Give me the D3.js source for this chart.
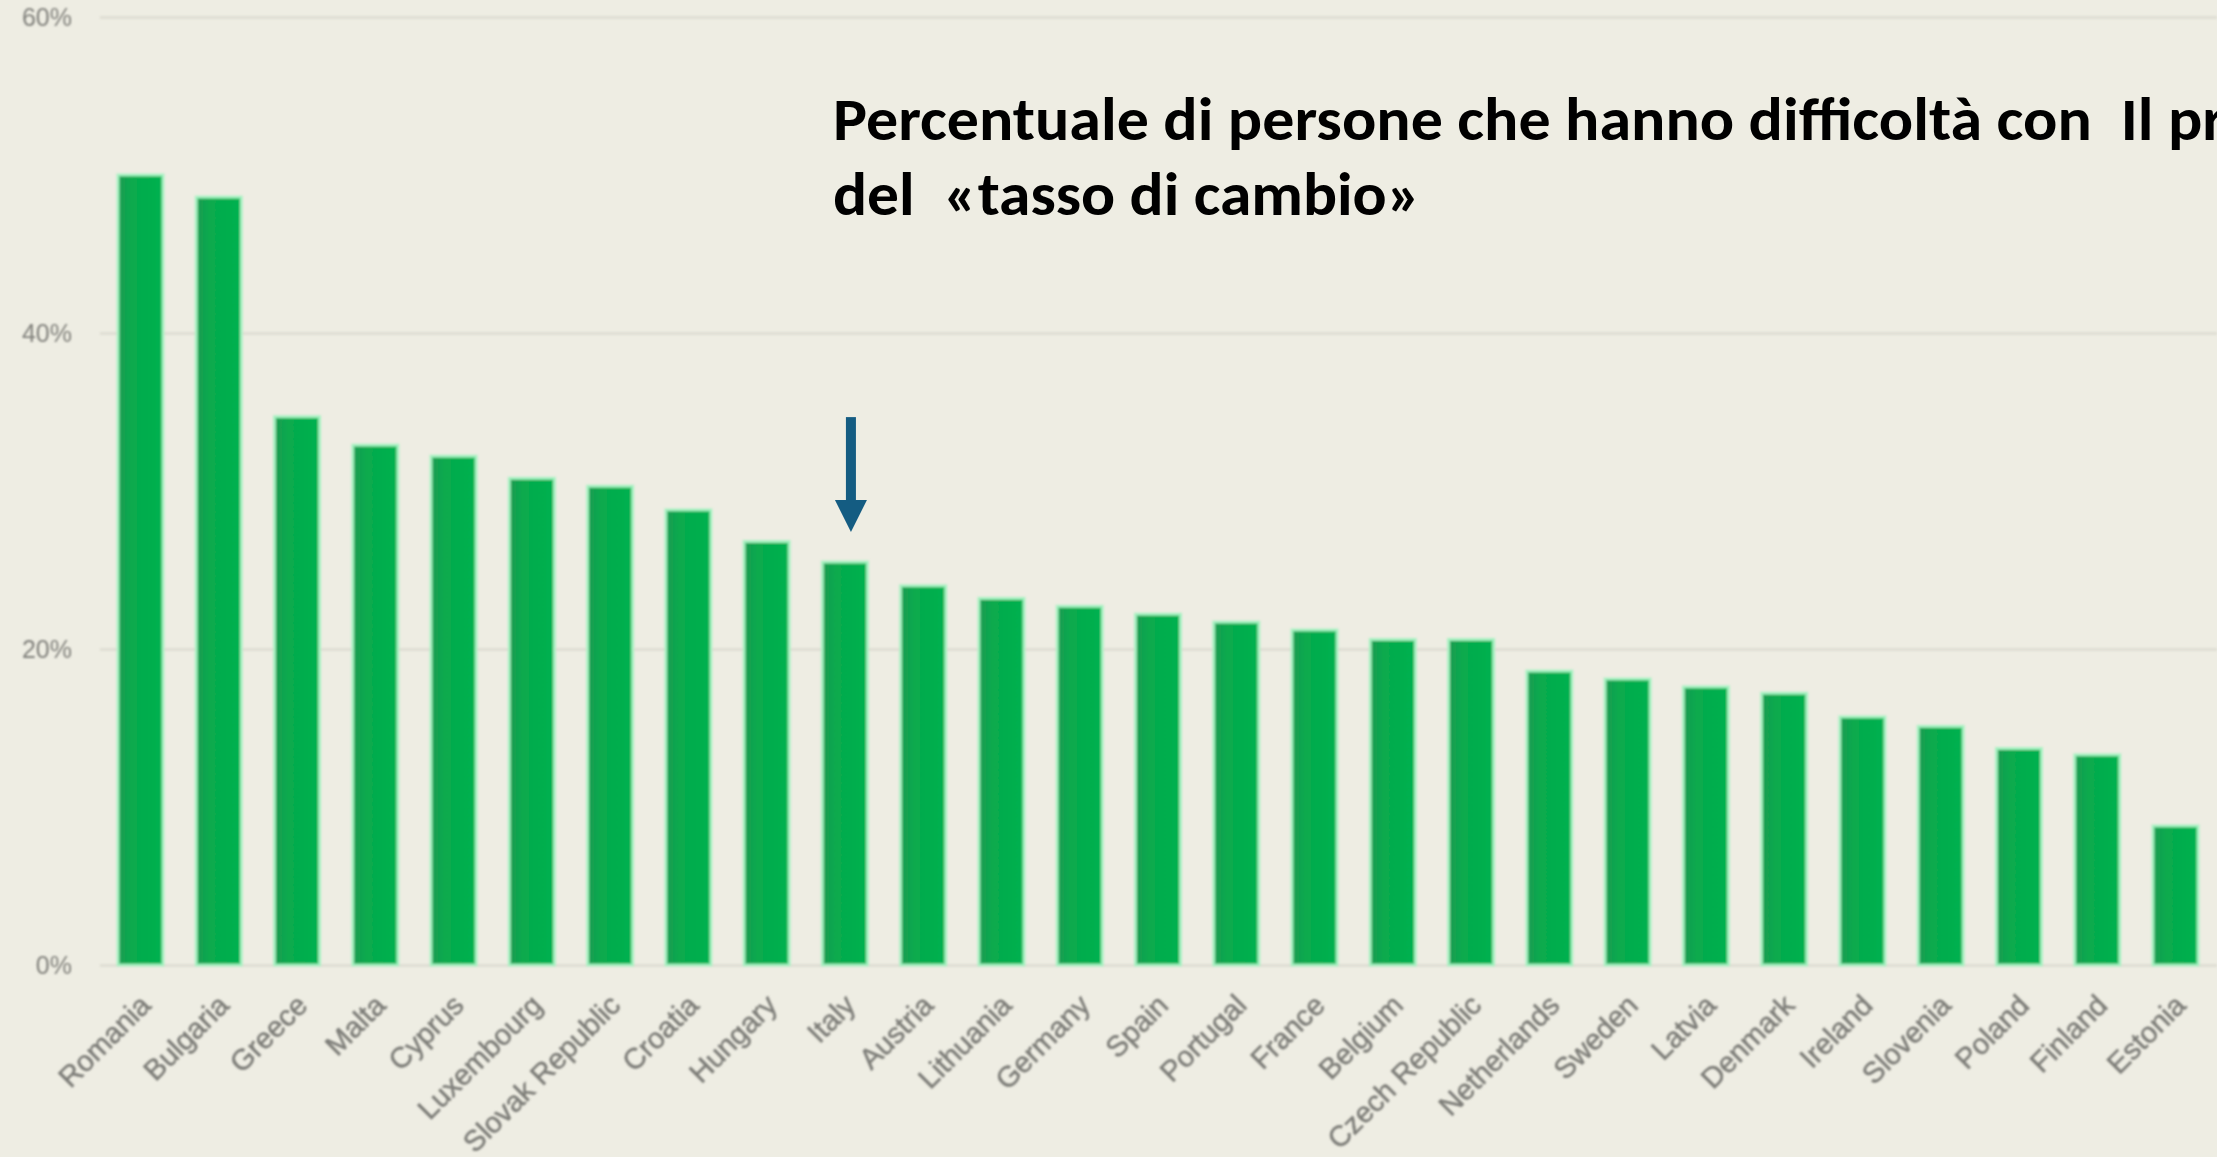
<!DOCTYPE html>
<html>
<head>
<meta charset="utf-8">
<script src="https://cdn.jsdelivr.net/npm/d3@7"></script>
<style>
  html, body { margin: 0; padding: 0; background: #eeede3; }
  svg { display: block; }
</style>
</head>
<body>
<svg id="chart" width="2217" height="1157"></svg>
<script>
// Share of people having difficulty with the "exchange rate" problem, by country
const countries = [
  "Romania", "Bulgaria", "Greece", "Malta", "Cyprus", "Luxembourg",
  "Slovak Republic", "Croatia", "Hungary", "Italy", "Austria", "Lithuania",
  "Germany", "Spain", "Portugal", "France", "Belgium", "Czech Republic",
  "Netherlands", "Sweden", "Latvia", "Denmark", "Ireland", "Slovenia",
  "Poland", "Finland", "Estonia"
];
const shares = [
  50.0, 48.6, 34.7, 32.9, 32.2, 30.8,
  30.3, 28.8, 26.8, 25.5, 24.0, 23.2,
  22.7, 22.2, 21.7, 21.2, 20.6, 20.6,
  18.6, 18.1, 17.6, 17.2, 15.7, 15.1,
  13.7, 13.3, 8.8
];
const yTicks = [0, 20, 40, 60];
const highlighted = "Italy";
const titleLines = [
  "Percentuale di persone che hanno difficoltà con  Il pr",
  "del  «tasso di cambio»"
];

const W = 2217, H = 1157;
const svg = d3.select("#chart");

const x = d3.scaleBand()
  .domain(countries)
  .range([118, 2198])
  .paddingInner(0.425)
  .paddingOuter(0);

const y = d3.scaleLinear()
  .domain([0, 60])
  .range([965, 17]);

const defs = svg.append("defs");
defs.append("filter").attr("id", "soft")
  .attr("x", "-5%").attr("y", "-5%").attr("width", "110%").attr("height", "110%")
  .append("feGaussianBlur").attr("stdDeviation", 0.9);

const grad = defs.append("linearGradient").attr("id", "barFill")
  .attr("x1", "0").attr("x2", "1").attr("y1", "0").attr("y2", "0");
grad.append("stop").attr("offset", "0").attr("stop-color", "#1c9b52");
grad.append("stop").attr("offset", "0.3").attr("stop-color", "#08aa4e");
grad.append("stop").attr("offset", "1").attr("stop-color", "#00b14f");

const plot = svg.append("g").attr("filter", "url(#soft)");

// y axis: labels on the left, gridlines across the plot
const yAxis = plot.append("g")
  .attr("transform", "translate(100,0)")
  .call(d3.axisLeft(y)
    .tickValues(yTicks)
    .tickFormat(d => d + "%")
    .tickSizeInner(-(W - 100))
    .tickSizeOuter(0)
    .tickPadding(28));
yAxis.select(".domain").remove();
yAxis.selectAll(".tick line")
  .attr("stroke", "#dcdbd1")
  .attr("stroke-width", 2.5);
yAxis.selectAll(".tick text")
  .attr("fill", "#80807b")
  .style("font-family", "'Liberation Sans', Arial, sans-serif")
  .style("font-size", "25px");

// bars
plot.append("g").selectAll("rect")
  .data(countries)
  .join("rect")
  .attr("x", d => x(d))
  .attr("width", x.bandwidth())
  .attr("y", (d, i) => y(shares[i]))
  .attr("height", (d, i) => y(0) - y(shares[i]))
  .attr("fill", "url(#barFill)")
  .attr("stroke", "#a6f3c2")
  .attr("stroke-width", 3)
  .attr("stroke-opacity", 0.9);

// x axis: rotated country names
const xAxis = plot.append("g")
  .attr("transform", `translate(0,${y(0)})`)
  .call(d3.axisBottom(x).tickSize(0).tickPadding(0));
xAxis.select(".domain").remove();
xAxis.selectAll(".tick text")
  .attr("fill", "#7d7d78")
  .attr("stroke", "#7d7d78")
  .attr("stroke-width", 0.5)
  .style("font-family", "'Liberation Sans', Arial, sans-serif")
  .style("font-size", "29px")
  .attr("text-anchor", "end")
  .attr("dy", null)
  .attr("y", null)
  .attr("transform", "translate(12,42) rotate(-45)");

// arrow pointing at the highlighted country
const hi = countries.indexOf(highlighted);
const ax = x(highlighted) + x.bandwidth() / 2 + 6;
const tipY = y(shares[hi]) - 30;
const arrow = svg.append("g").attr("fill", "#145c82");
arrow.append("rect")
  .attr("x", ax - 5).attr("y", tipY - 115)
  .attr("width", 10).attr("height", 84);
arrow.append("path")
  .attr("d", d3.line()([[ax - 16, tipY - 32], [ax + 16, tipY - 32], [ax, tipY]]) + "Z");

// title
const title = svg.append("g")
  .style("font-family", "Carlito, Calibri, 'Liberation Sans', Arial, sans-serif")
  .style("font-weight", "bold")
  .style("font-size", "60px")
  .attr("fill", "#000");
title.append("text")
  .attr("x", 833).attr("y", 140)
  .style("white-space", "pre")
  .attr("textLength", 1392)
  .attr("lengthAdjust", "spacingAndGlyphs")
  .text(titleLines[0]);
title.append("text")
  .attr("x", 833).attr("y", 215)
  .style("white-space", "pre")
  .attr("textLength", 588)
  .attr("lengthAdjust", "spacingAndGlyphs")
  .text(titleLines[1]);
</script>
</body>
</html>
